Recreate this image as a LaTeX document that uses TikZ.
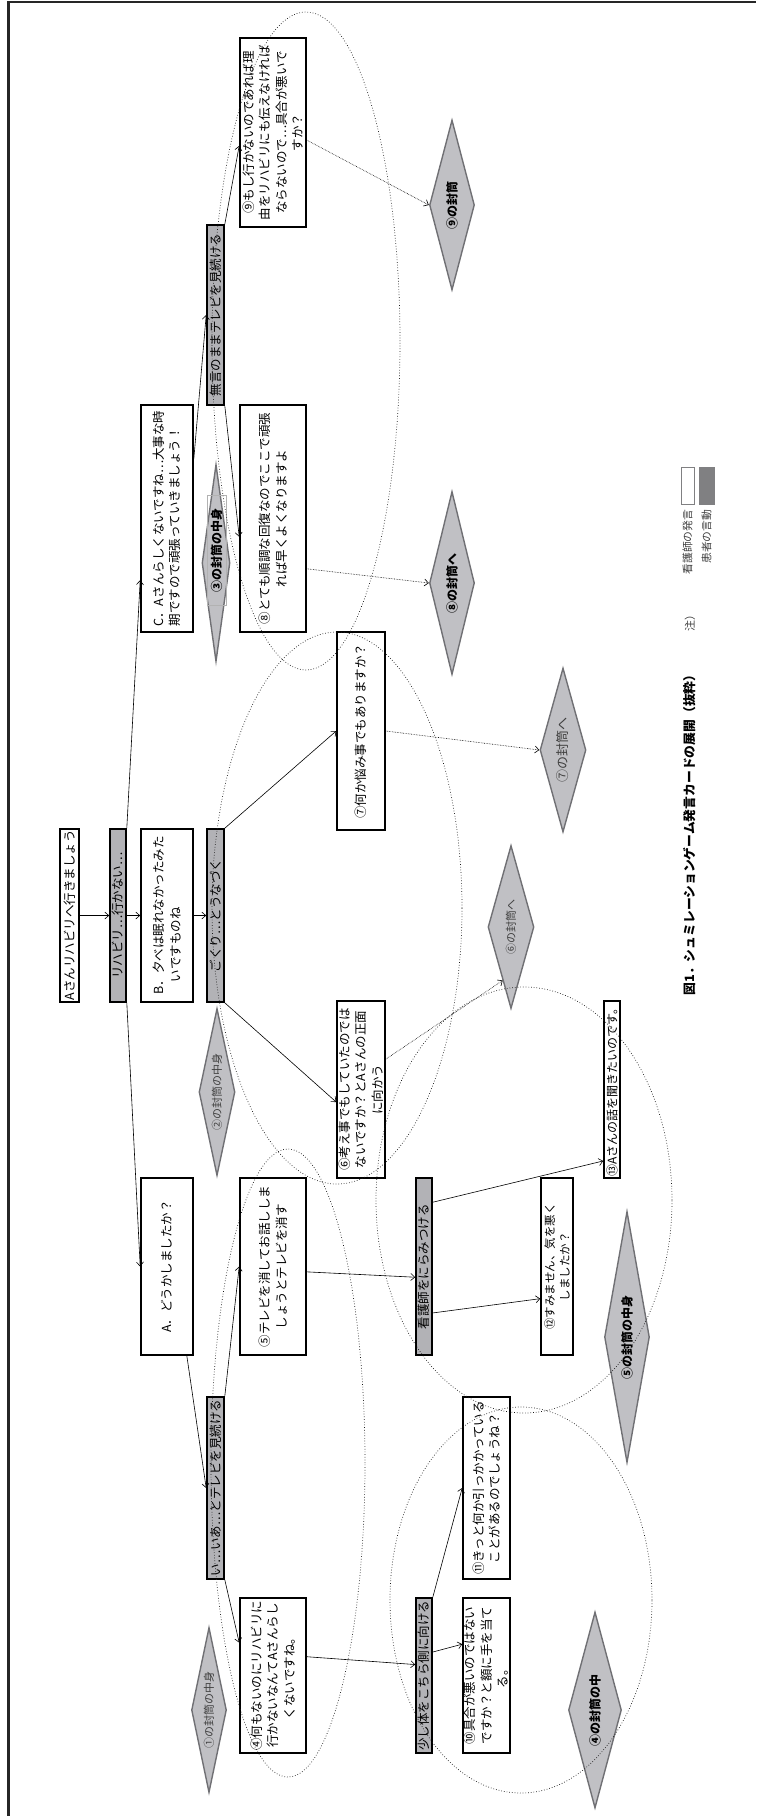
\documentclass[tikz,border=0pt]{standalone}
\usepackage{fontspec}
\usepackage{tikz}
\usetikzlibrary{shapes.geometric,arrows.meta,calc}
\newfontfamily\jp{Noto Sans CJK JP}
\definecolor{actgray}{RGB}{178,178,182}
\definecolor{envgray}{RGB}{192,192,196}
\definecolor{envline}{RGB}{112,112,116}
\definecolor{keygray}{RGB}{128,128,130}

\begin{document}
\begin{tikzpicture}[x=1pt, y=-1pt,
    card/.style={draw, line width=1.6pt, fill=white, rotate=90, align=center, inner sep=1pt, font=\jp\fontsize{12.5}{16.5}\selectfont},
    act/.style={draw, line width=1.6pt, fill=actgray, rotate=90, align=center, inner sep=0.5pt, font=\jp\fontsize{12.5}{14}\selectfont},
    env/.style={diamond, aspect=4, draw=envline, line width=1.4pt, fill=envgray, rotate=90, inner sep=0pt, text=black!75, font=\jp\fontsize{11}{13}\selectfont},
    envb/.style={env, text=black, font=\jp\bfseries\fontsize{12}{14}\selectfont},
    flow/.style={-{Straight Barb[length=4pt,width=7pt]}, line width=0.6pt},
    link/.style={flow, densely dotted},
    grp/.style={dotted, line width=0.7pt, draw=black!90},
]
    \useasboundingbox (0,0) rectangle (756,1816);

    % Frame (top and left edges only)
    \draw[line width=2.5pt, black!85] (8.5,1816) -- (8.5,2) -- (756,2);

    % Start card and first reaction
    \node[card, line width=2.4pt, minimum width=173pt, minimum height=19pt, inner sep=0.5pt] (go) at (69.5,915.5) {Aさんリハビリへ行きましょう};
    \node[act, minimum width=173pt, minimum height=16pt] (rehab) at (118,915.5) {リハビリ…行かない…};

    % Nurse replies A, B, C
    \node[card, align=left, minimum width=227pt, minimum height=52pt] (respC) at (167,518.5) {C．Aさんらしくないですね…大事な時\\期ですので頑張っていきましょう！};
    \node[card, align=left, minimum width=173pt, minimum height=52pt] (respB) at (167,915.5) {B．夕べは眠れなかったみた\\\hspace*{1em}いですものね};
    \node[card, minimum width=177pt, minimum height=52pt] (respA) at (167,1266.5) {A．どうかしましたか？};

    % Patient reactions
    \node[act, minimum width=180pt, minimum height=17pt] (silent) at (215.5,315) {無言のままテレビを見続ける};
    \node[act, minimum width=173pt, minimum height=17pt] (nod) at (215.5,915.5) {ごくり…とうなづく};
    \node[act, minimum width=182pt, minimum height=17pt] (watch) at (215.5,1488) {い…いあ…とテレビを見続ける};

    % Envelopes of the first replies
    \node[env, minimum width=197pt, minimum height=28pt] (envC) at (216,563) {};
    \node[envb, draw=black!30, line width=0.5pt, fill=none, rectangle, minimum width=110pt, minimum height=19pt] (envCtext) at (216.5,550) {③の封筒の中身};
    \node[env, minimum width=167pt, minimum height=36pt] (envB) at (217,1092) {②の封筒の中身};
    \node[env, minimum width=165pt, minimum height=35pt] (envA) at (209,1710) {①の封筒の中身};

    % Nurse cards, second step
    \node[card, minimum width=189pt, minimum height=66pt] (q9) at (273,132.5) {⑨もし行かないのであれば理\\由をリハビリにも伝えなければ\\ならないので…具合が悪いで\\すか？};
    \node[card, minimum width=227pt, minimum height=66pt] (q8) at (273,518.5) {⑧とても順調な回復なのでここで頑張\\れば早くよくなりますよ};
    \node[card, minimum width=177pt, minimum height=66pt] (q5) at (273,1266.5) {⑤テレビを消してお話ししま\\しょうとテレビを消す};
    \node[card, minimum width=155pt, minimum height=66pt] (q4) at (273,1675.5) {④何もないのにリハビリに\\行かないなんてAさんらし\\くないですね。};
    \node[card, minimum width=198pt, minimum height=48pt] (q7) at (361,731) {⑦何か悩み事でもありますか？};
    \node[card, minimum width=177pt, minimum height=48pt] (q6) at (361,1089.5) {⑥考え事でもしていたのでは\\ないですか？とAさんの正面\\に向かう};

    % Patient reactions, second step
    \node[act, minimum width=177pt, minimum height=16pt] (glare) at (424,1266.5) {看護師をにらみつける};
    \node[act, minimum width=155pt, minimum height=16pt] (turn) at (424,1675.5) {少し体をこちら側に向ける};

    % Nurse cards, third step
    \node[card, minimum width=182pt, minimum height=47pt] (q11) at (486.5,1488) {⑪きっと何か引っかかっている\\ことがあるのでしょうね？};
    \node[card, minimum width=155pt, minimum height=47pt] (q10) at (486.5,1675.5) {⑩具合が悪いのではない\\ですか？と額に手を当て\\る。};
    \node[card, minimum width=177pt, minimum height=32pt, font=\jp\fontsize{11.5}{15}\selectfont] (q12) at (557,1266.5) {⑫すみません、気を悪く\\しましたか？};
    \node[card, minimum width=177pt, minimum height=16pt, inner sep=0.5pt, font=\jp\fontsize{12}{14}\selectfont] (q13) at (612,1089.5) {⑬Aさんの話を聞きたいのです。};

    % Envelopes
    \node[envb, minimum width=170pt, minimum height=45pt] (env9) at (452,205) {⑨の封筒};
    \node[envb, minimum width=183pt, minimum height=45pt] (env8) at (452,583) {⑧の封筒へ};
    \node[env, minimum width=164pt, minimum height=46pt, font=\jp\fontsize{13}{15}\selectfont] (env7) at (563,750) {⑦の封筒へ};
    \node[env, minimum width=163pt, minimum height=46pt] (env6) at (511,927) {⑥の封筒へ};
    \node[envb, minimum width=251pt, minimum height=45pt] (env5) at (627,1337) {⑤の封筒の中身};
    \node[envb, minimum width=196pt, minimum height=53pt] (env4) at (595,1710) {④の封筒の中};

    % Connectors
    \draw[flow] (go.south) -- (rehab.north);
    \draw[flow] (rehab.south) -- (respB.north);
    \draw[flow] (respB.south) -- (nod.north);
    \draw[flow] (rehab.south east) -- ($(respC.north west)!0.23!(respC.north east)$);
    \draw[flow] (rehab.south west) -- (respA.north);
    \draw[flow] ($(respC.south west)!0.76!(respC.south east)$) -- (silent.north);
    \draw[flow] (silent.south east) -- ($(q9.north west)!0.43!(q9.north east)$);
    \draw[flow] (silent.south west) -- ($(q8.north west)!0.42!(q8.north east)$);
    \draw[flow] (nod.south east) -- (q7.north);
    \draw[flow] (nod.south west) -- ($(q6.north west)!0.43!(q6.north east)$);
    \draw[flow] ($(respA.south west)!0.13!(respA.north west)$) -- (watch.north);
    \draw[flow] (watch.south east) -- (q5.north);
    \draw[flow] (watch.south west) -- ($(q4.north west)!0.71!(q4.north east)$);
    \draw[flow] ($(q5.south west)!0.47!(q5.south east)$) -- ($(glare.north west)!0.44!(glare.north east)$);
    \draw[flow] ($(glare.south west)!0.86!(glare.south east)$) -- ($(q13.north west)!0.1!(q13.north east)$);
    \draw[flow] ($(glare.south west)!0.24!(glare.south east)$) -- ($(q12.north west)!0.32!(q12.north east)$);
    \draw[flow] ($(q4.south west)!0.62!(q4.south east)$) -- ($(turn.north west)!0.57!(turn.north east)$);
    \draw[flow] ($(turn.south west)!0.65!(turn.south east)$) -- ($(q10.north west)!0.7!(q10.north east)$);
    \draw[flow] (turn.south east) -- (q11.north);

    % Links to envelopes
    \draw[link] ($(q9.south west)!0.46!(q9.south east)$) -- (env9.north);
    \draw[link] ($(q8.south west)!0.28!(q8.south east)$) -- (env8.north);
    \draw[link] (q7.south) -- (env7.north);
    \draw[link] ($(q6.south west)!0.67!(q6.south east)$) -- ($(env6.west)!0.35!(env6.north)$);

    % Groups
    \draw[grp] (306,341) ellipse [x radius=94pt, y radius=329pt];
    \draw[grp] (337,908) ellipse [x radius=125pt, y radius=276pt];
    \draw[grp] (288,1463) ellipse [x radius=77pt, y radius=314pt];
    \draw[grp] (524,1200) ellipse [x radius=148pt, y radius=213pt];
    \draw[grp] (521,1600) ellipse [x radius=131pt, y radius=193pt];

    % Legend and caption
    \node[draw=keygray, line width=0.9pt, fill=white, rotate=90, minimum width=37pt, minimum height=13pt, inner sep=0pt] (keyw) at (687.5,485.5) {};
    \node[draw=keygray, line width=0.9pt, fill=keygray, rotate=90, minimum width=37pt, minimum height=15pt, inner sep=0pt] (keyg) at (706.5,485.5) {};
    \node[rotate=90, anchor=east, inner sep=0pt, text=black!75, font=\jp\fontsize{10.8}{12}\selectfont] (keywlab) at ([yshift=-5pt]keyw.west) {看護師の発言};
    \node[rotate=90, anchor=east, inner sep=0pt, text=black!75, font=\jp\fontsize{10.8}{12}\selectfont] (keyglab) at ([yshift=-5pt]keyg.west) {患者の言動};
    \node[rotate=90, inner sep=0pt, text=black!75, font=\jp\fontsize{11}{12}\selectfont] (note) at (690,620) {注）};
    \node[rotate=90, inner sep=0pt, font=\jp\bfseries\fontsize{12.8}{14}\selectfont] (title) at (690,832) {図1．シュミレーションゲーム発言カードの展開（抜粋）};
\end{tikzpicture}
\end{document}
